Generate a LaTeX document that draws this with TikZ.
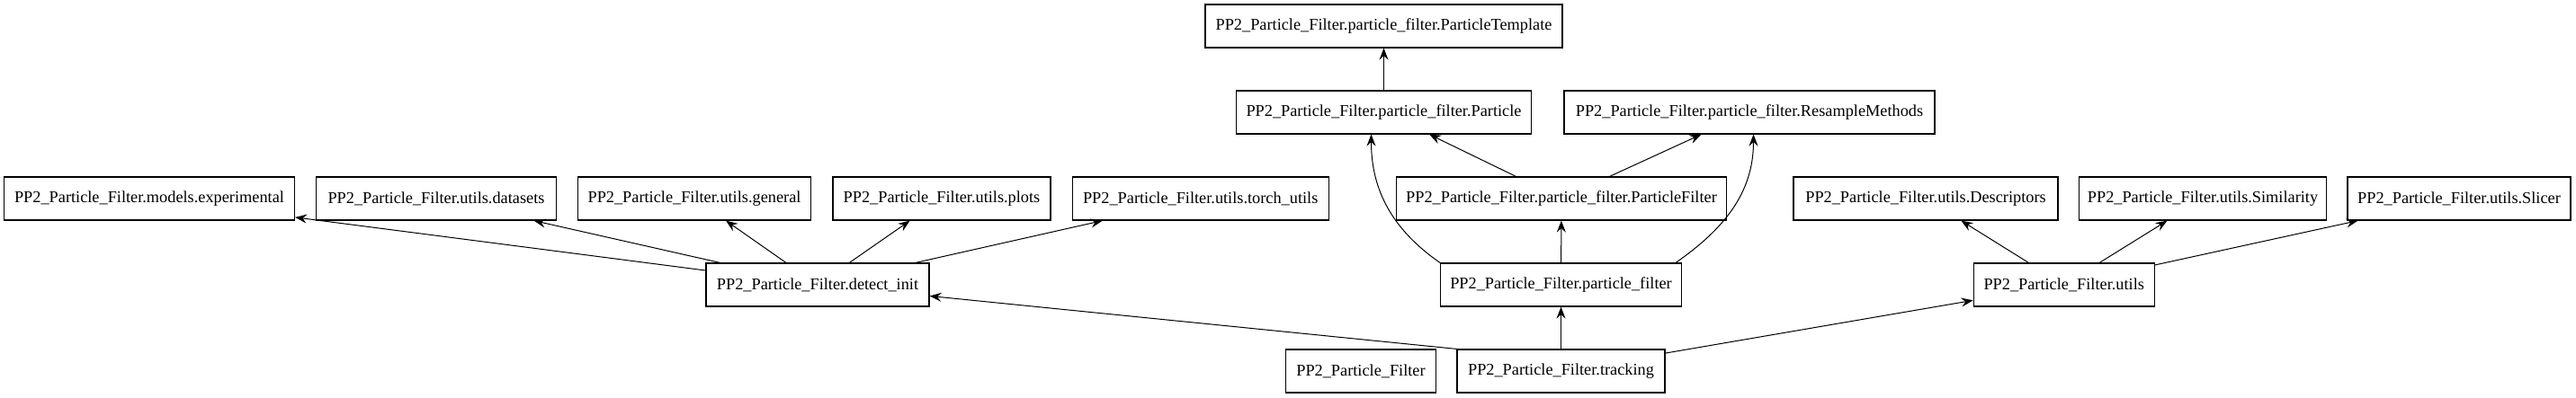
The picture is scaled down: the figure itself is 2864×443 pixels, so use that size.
\documentclass[tikz,border=0pt]{standalone}
\usepackage{fontspec}
\setmainfont{Liberation Serif}
\usepackage{tikz}
\usetikzlibrary{arrows.meta}
\tikzset{
    mod/.style={rectangle, draw, line width=1.2pt, minimum height=48pt, inner sep=3pt, font=\fontsize{18.3}{22}\selectfont},
    dep/.style={draw, line width=1pt, -{Stealth[length=13pt, width=10pt, inset=4.5pt]}},
}

\begin{document}
\begin{tikzpicture}[x=1pt, y=-1pt]
    \useasboundingbox (0,0) rectangle (2864,443);
    % modules
    \node[mod, minimum width=397pt] (tmpl) at (1538.5,29) {PP2\_Particle\_Filter.particle\_filter.ParticleTemplate};
    \node[mod, minimum width=328pt] (particle) at (1538.5,125) {PP2\_Particle\_Filter.particle\_filter.Particle};
    \node[mod, minimum width=412pt] (resample) at (1945,125) {PP2\_Particle\_Filter.particle\_filter.ResampleMethods};
    \node[mod, minimum width=323pt] (experimental) at (166,221) {PP2\_Particle\_Filter.models.experimental};
    \node[mod, minimum width=267pt] (datasets) at (485,221) {PP2\_Particle\_Filter.utils.datasets};
    \node[mod, minimum width=259pt] (general) at (772,221) {PP2\_Particle\_Filter.utils.general};
    \node[mod, minimum width=242pt] (plots) at (1047,221) {PP2\_Particle\_Filter.utils.plots};
    \node[mod, minimum width=285pt] (torchutils) at (1334.7,221) {PP2\_Particle\_Filter.utils.torch\_utils};
    \node[mod, minimum width=367pt] (pfclass) at (1736,221) {PP2\_Particle\_Filter.particle\_filter.ParticleFilter};
    \node[mod, minimum width=294pt] (descriptors) at (2141,221) {PP2\_Particle\_Filter.utils.Descriptors};
    \node[mod, minimum width=275pt] (similarity) at (2449,221) {PP2\_Particle\_Filter.utils.Similarity};
    \node[mod, minimum width=248pt] (slicer) at (2734,221) {PP2\_Particle\_Filter.utils.Slicer};
    \node[mod, minimum width=248pt] (detect) at (909,317) {PP2\_Particle\_Filter.detect\_init};
    \node[mod, minimum width=268pt] (pfmod) at (1735.5,317) {PP2\_Particle\_Filter.particle\_filter};
    \node[mod, minimum width=201pt] (utils) at (2294.7,317) {PP2\_Particle\_Filter.utils};
    \node[mod, minimum width=167pt] (root) at (1513,413) {PP2\_Particle\_Filter};
    \node[mod, minimum width=231pt] (tracking) at (1735.5,413) {PP2\_Particle\_Filter.tracking};

    % imports
    \draw[dep] (particle) -- (tmpl);
    \draw[dep] (pfclass) -- (particle);
    \draw[dep] (pfclass) -- (resample);
    \draw[dep] (pfmod) -- (pfclass);
    \draw[dep] (pfmod.north west) to[out=145, in=-90] ([xshift=-14pt]particle.south);
    \draw[dep] ([xshift=-7pt]pfmod.north east) to[out=35, in=-90] ([xshift=4.5pt]resample.south);
    \foreach \dst in {experimental, datasets, general, plots, torchutils}
        \draw[dep] (detect) -- (\dst);
    \foreach \dst in {descriptors, similarity, slicer}
        \draw[dep] (utils) -- (\dst);
    \draw[dep] (tracking.north west) -- (detect);
    \draw[dep] (tracking) -- (pfmod);
    \draw[dep] (tracking) -- (utils);
\end{tikzpicture}
\end{document}
